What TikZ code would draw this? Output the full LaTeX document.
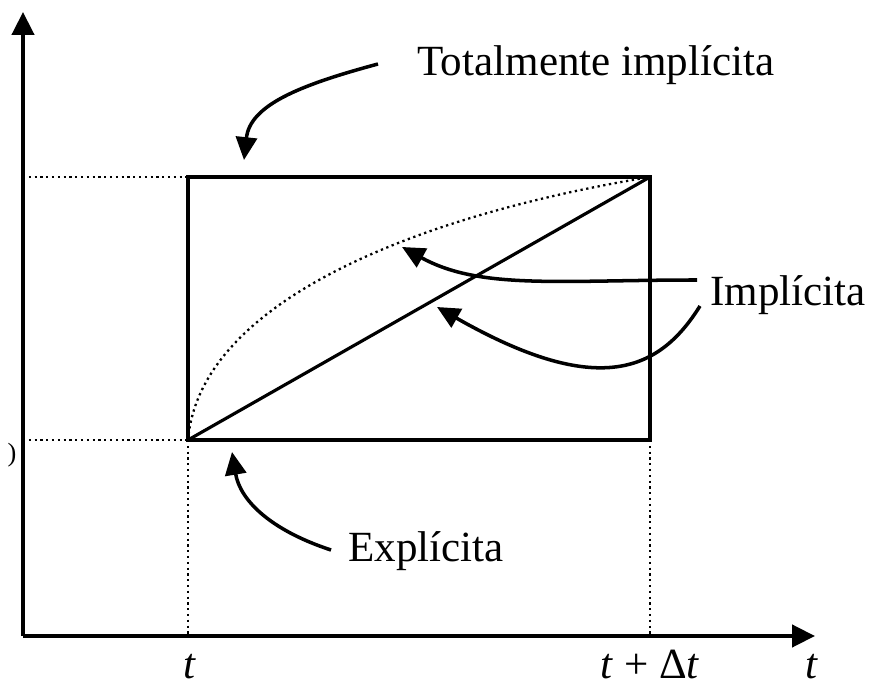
\documentclass[tikz,border=0pt]{standalone}
\usepackage{fontspec}
\setmainfont{Liberation Serif}
\usetikzlibrary{arrows.meta}

\begin{document}
\begin{tikzpicture}[
  x=0.02cm,y=-0.02cm,
  >={Triangle[length=13pt,width=12.5pt]},
  axis/.style={line width=2.3pt,->},
  box/.style={line width=1.8pt},
  guide/.style={dotted,line width=1.3pt},
  pointer/.style={line width=2pt,-{Triangle[length=13pt,width=12pt]}},
  lbl/.style={font=\fontsize{24.5}{28}\selectfont,inner sep=0pt,anchor=base}
]
  \useasboundingbox (0,0) rectangle (869,688);

  % Corners of the step and the axes' ends.
  \coordinate (origin) at (23,636);
  \coordinate (ytip) at (23,12);
  \coordinate (xtip) at (815,636);
  \coordinate (lo) at (188,440);
  \coordinate (hi) at (650,177);

  \draw[axis] (origin) -- (ytip);
  \draw[axis] (origin) -- (xtip);

  % Dotted guides to the axes.
  \draw[guide] (23,177) -- (188,177);
  \draw[guide] (23,440) -- (lo);
  \draw[guide] (lo) -- (188,636);
  \draw[guide] (650,440) -- (650,636);

  \draw[box] (lo) rectangle (hi);
  \draw[box] (lo) -- (hi);
  \draw[guide] (lo) .. controls (200,300) and (420,215) .. (hi);

  % Labels.
  \node[lbl] (total) at (596,76) {Totalmente implícita};
  \node[lbl] (impl) at (788,306) {Implícita};
  \node[lbl] (expl) at (426,562) {Explícita};
  \node[lbl] (t0) at (190,679) {\textit{t}};
  \node[lbl] (t1) at (650,679) {\textit{t} + Δ\textit{t}};
  \node[lbl] (tx) at (812,679) {\textit{t}};
  \node[font=\fontsize{15}{17}\selectfont,inner sep=0pt] (cut) at (12,455) {)};

  % Pointers.
  \coordinate (ptop) at (244,160);
  \coordinate (pcurve) at (402,247);
  \coordinate (pline) at (437,307);
  \coordinate (pexpl) at (232,452);
  \draw[pointer] (378,64) .. controls (300,85) and (250,105) .. (ptop);
  \draw[pointer] (697,280) .. controls (560,280) and (480,290) .. (pcurve);
  \draw[pointer] (700,306) .. controls (660,370) and (600,400) .. (pline);
  \draw[pointer] (331,550) .. controls (270,530) and (240,500) .. (pexpl);
\end{tikzpicture}
\end{document}
